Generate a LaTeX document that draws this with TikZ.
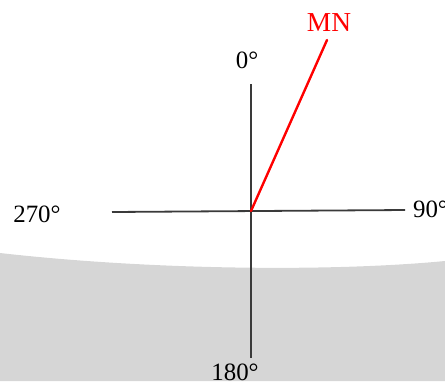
\documentclass[tikz,border=0pt]{standalone}
\usepackage{fontspec}
\setmainfont{Liberation Serif}
\usepackage{xcolor}
\usetikzlibrary{positioning}
\definecolor{groundgray}{RGB}{214,214,214}
\definecolor{axisgray}{RGB}{58,58,58}

\begin{document}
\begin{tikzpicture}[
    x=1bp, y=-1bp,
    axis/.style={draw=axisgray, line width=1.8bp},
    bearing/.style={draw=red, line width=2.4bp},
    deg/.style={anchor=base, inner sep=0pt, font=\fontsize{25}{25}\selectfont},
    tag/.style={anchor=base, inner sep=0pt, text=red, font=\fontsize{27.5}{27.5}\selectfont}
]
    \useasboundingbox (0,0) rectangle (445,381);

    % Ground area
    \fill[groundgray] (0,253) .. controls (150,270) and (330,272) .. (445,261)
        -- (445,381) -- (0,381) -- cycle;

    % Axis end points
    \coordinate (o) at (251,211);
    \coordinate (north) at (251,84);
    \coordinate (south) at (251,358);
    \coordinate (west) at (112,212);
    \coordinate (east) at (405,210);
    \coordinate (mnend) at (327,40);

    % Axes
    \draw[axis] (west) -- (east);
    \draw[axis] (north) -- (south);

    % Bearing line
    \draw[bearing, line cap=round] (o) -- (mnend);

    % Labels
    \node[deg] (lblN) at (247,68) {0°};
    \node[deg] (lblE) at (430.5,217) {90°};
    \node[deg] (lblS) at (235,380) {180°};
    \node[deg] (lblW) at (37,222) {270°};
    \node[tag] (lblMN) at (329,31) {MN};
\end{tikzpicture}
\end{document}
